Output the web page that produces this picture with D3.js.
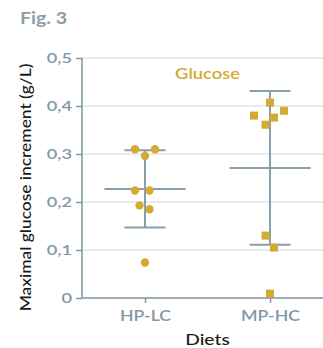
<!DOCTYPE html>
<html><head><meta charset="utf-8">
<script src="https://cdn.jsdelivr.net/npm/d3@7"></script>
<style>body{margin:0;background:#fff}svg{display:block}</style>
</head><body>
<script>
const categories = ["HP-LC", "MP-HC"];
const hplcValues = [0.310, 0.310, 0.296, 0.224, 0.224, 0.193, 0.185, 0.074];
const hplcOffsets = [-10, 10, 0, -10, 4.5, -5.5, 4.5, 0];
const mphcValues = [0.407, 0.390, 0.380, 0.376, 0.361, 0.130, 0.105, 0.009];
const mphcOffsets = [0, 14, -16, 4, -4.5, -4.5, 4, 0];
const means = [0.227, 0.271];
const upper = [0.308, 0.431];
const lower = [0.147, 0.111];
const yTicks = [0, 0.1, 0.2, 0.3, 0.4, 0.5];
const yTickLabels = ["0", "0,1", "0,2", "0,3", "0,4", "0,5"];

const W = 323, H = 348;
const gold = "#d3aa33", axisCol = "#7f95a3", gridCol = "#e0e6ea";
const font = "Lato, 'Open Sans', sans-serif";
const svg = d3.select("body").append("svg").attr("width", W).attr("height", H);

function stretch(sel, f) {
  sel.each(function () {
    const w = this.getComputedTextLength();
    d3.select(this).attr("textLength", w * f).attr("lengthAdjust", "spacingAndGlyphs");
  });
}

const y = d3.scaleLinear().domain([0, 0.5]).range([298, 58]);
const x = d3.scalePoint().domain(categories).range([145, 270]);
const left = 82, right = 323;

// gridlines
svg.append("g").selectAll("line").data(yTicks.slice(1)).join("line")
  .attr("x1", left).attr("x2", right)
  .attr("y1", d => y(d)).attr("y2", d => y(d))
  .attr("stroke", gridCol).attr("stroke-width", 1.5);

// y axis
const yAxis = svg.append("g").attr("transform", `translate(${left},0)`)
  .call(d3.axisLeft(y).tickValues(yTicks).tickFormat((d, i) => yTickLabels[i]).tickSize(6).tickPadding(4));
yAxis.select(".domain").attr("stroke", axisCol).attr("stroke-width", 1.5).attr("d", `M0,${y(0.5)}V${y(0)}`);
yAxis.selectAll(".tick line").attr("stroke", axisCol).attr("stroke-width", 1.5);
yAxis.selectAll("text").attr("fill", "#8197a6").attr("font-size", 14).attr("font-family", font).attr("font-weight", 600)
  .call(stretch, 1.3);

// x axis
const xAxis = svg.append("g").attr("transform", `translate(0,${y(0)})`)
  .call(d3.axisBottom(x).tickSize(5).tickPadding(8));
xAxis.select(".domain").attr("stroke", axisCol).attr("stroke-width", 1.5).attr("d", `M${left},0H${right}`);
xAxis.selectAll(".tick line").attr("stroke", axisCol).attr("stroke-width", 1.5);
xAxis.selectAll("text").attr("fill", "#8197a6").attr("font-size", 14.5).attr("font-family", font).attr("font-weight", 600)
  .call(stretch, 1.22);

// error bars
const eb = svg.append("g").attr("stroke", "#8a9daa").attr("stroke-width", 2);
categories.forEach((c, i) => {
  const cx = x(c);
  eb.append("line").attr("x1", cx).attr("x2", cx).attr("y1", y(upper[i])).attr("y2", y(lower[i]));
  eb.append("line").attr("x1", cx - 20.5).attr("x2", cx + 20.5).attr("y1", y(upper[i])).attr("y2", y(upper[i]));
  eb.append("line").attr("x1", cx - 20.5).attr("x2", cx + 20.5).attr("y1", y(lower[i])).attr("y2", y(lower[i]));
  eb.append("line").attr("x1", cx - 40.5).attr("x2", cx + 40.5).attr("y1", y(means[i])).attr("y2", y(means[i]));
});

// points
svg.append("g").selectAll("circle").data(hplcValues).join("circle")
  .attr("cx", (d, i) => x("HP-LC") + hplcOffsets[i]).attr("cy", d => y(d))
  .attr("r", 4.2).attr("fill", gold);
svg.append("g").selectAll("rect").data(mphcValues).join("rect")
  .attr("x", (d, i) => x("MP-HC") + mphcOffsets[i] - 4).attr("y", d => y(d) - 4)
  .attr("width", 8).attr("height", 8).attr("fill", gold);

// texts
svg.append("text").attr("x", 20).attr("y", 23.5).text("Fig. 3")
  .attr("fill", "#8a9eab").attr("font-size", 17).attr("font-weight", 700).attr("font-family", font)
  .call(stretch, 1.15);
svg.append("text").attr("x", 207.5).attr("y", 79).attr("text-anchor", "middle").text("Glucose")
  .attr("fill", gold).attr("font-size", 15).attr("font-weight", 600).attr("font-family", font)
  .call(stretch, 1.22);
svg.append("text").attr("transform", "translate(30.5,187.5) rotate(-90)").attr("text-anchor", "middle")
  .text("Maximal glucose increment (g/L)")
  .attr("fill", "#1a1a1a").attr("font-size", 15.5).attr("font-weight", 500).attr("font-family", font)
  .call(stretch, 1.12);
svg.append("text").attr("x", 207.5).attr("y", 345).attr("text-anchor", "middle").text("Diets")
  .attr("fill", "#1a1a1a").attr("font-size", 16).attr("font-weight", 500).attr("font-family", font)
  .call(stretch, 1.2);
</script>
</body></html>
